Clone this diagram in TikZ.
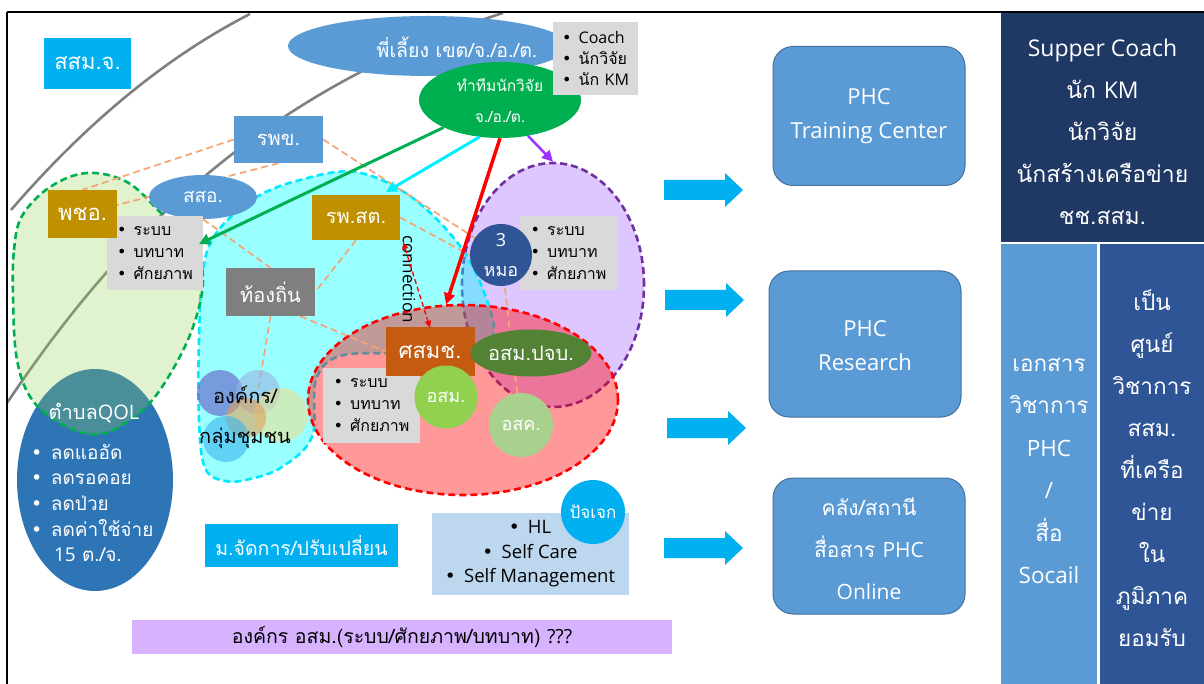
\documentclass[tikz,border=0pt]{standalone}
\usepackage{fontspec}
\setmainfont{Loma}[Script=Thai]
\newfontfamily\dejavu{DejaVu Sans}
\newfontfamily\latfont{Open Sans}
\newcommand{\la}[1]{{\latfont #1}}
\usetikzlibrary{shapes.geometric,arrows.meta}
\newcommand{\bl}{{\dejavu •}\hspace{0.45em}}
\definecolor{cyanbox}{RGB}{0,176,240}
\definecolor{medblue}{RGB}{91,155,213}
\definecolor{medblueline}{RGB}{65,113,156}
\definecolor{goldbox}{RGB}{191,144,0}
\definecolor{greenE}{RGB}{0,176,80}
\definecolor{graybox}{RGB}{217,217,217}
\definecolor{grayln}{RGB}{128,128,128}
\definecolor{gray7f}{RGB}{127,127,127}
\definecolor{orbox}{RGB}{197,90,17}
\definecolor{dkgreen}{RGB}{84,130,53}
\definecolor{lgreen}{RGB}{146,208,80}
\definecolor{lgreen2}{RGB}{169,209,142}
\definecolor{dkblue}{RGB}{47,85,151}
\definecolor{navy}{RGB}{32,56,100}
\definecolor{qolblue}{RGB}{46,117,182}
\definecolor{paleblue}{RGB}{189,215,238}
\definecolor{barpurple}{RGB}{214,178,255}
\definecolor{lavender}{RGB}{222,198,255}
\definecolor{orline}{RGB}{244,165,115}
\definecolor{violet}{RGB}{153,51,255}
\definecolor{dpurple}{RGB}{112,48,160}
\definecolor{cyanarr}{RGB}{0,240,255}
\definecolor{cyanln}{RGB}{0,232,255}
\definecolor{purecyan}{RGB}{0,255,255}
\definecolor{purered}{RGB}{255,0,0}
\pgfdeclarelayer{l0}\pgfdeclarelayer{l1}\pgfdeclarelayer{l2}\pgfdeclarelayer{l3}\pgfdeclarelayer{top}
\pgfsetlayers{l0,l1,l2,l3,main,top}
\tikzset{
  fs/.style={font=\fontsize{#1}{#1}\selectfont},
  boxw/.style={rectangle, inner sep=0pt, text=white, font=\fontsize{20}{26}\selectfont},
  blist/.style={rectangle, inner sep=0pt, fill=graybox, text=black, align=left, font=\fontsize{16}{22}\selectfont},
  ellw/.style={ellipse, inner sep=0pt, text=white},
  circw/.style={circle, inner sep=0pt, text=white},
  graycurve/.style={draw=grayln, line width=2.6pt},
  orl/.style={draw=orline, line width=1.7pt, dash pattern=on 7pt off 4pt},
  zonedash/.style={line width=2.6pt, dash pattern=on 7pt off 4pt},
  phc/.style={rectangle, rounded corners=20pt, fill=medblue, draw=medblueline, line width=1pt, text=white, align=center, minimum width=192, inner sep=0pt},
  panel/.style={rectangle, inner sep=0pt, text=white, align=center},
  bigarrow/.style={fill=cyanbox},
  link/.style={line width=3pt, -{Triangle[length=11pt,width=11pt]}},
  orgc/.style={circle, inner sep=0pt, fill opacity=0.6}
}
\begin{document}
\begin{tikzpicture}[x=1pt,y=-1pt]
\useasboundingbox (0,0) rectangle (1204,684);
% frame
\draw[line width=2pt] (7,12) -- (1204,12);
\draw[line width=2pt] (7,12) -- (7,684);

% ---------- layer 0 ----------
\begin{pgfonlayer}{l0}
\draw[graycurve] (11,210) .. controls (80,130) and (160,60) .. (250,14);
\draw[graycurve] (7,403) .. controls (90,280) and (230,100) .. (503,13);
\node[ellipse, fill=qolblue, minimum width=156, minimum height=222, inner sep=0pt] (qol) at (95,480) {};
\node[ellipse, fill=lavender, draw=dpurple, zonedash, minimum width=182, minimum height=244, inner sep=0pt] (mzone) at (553,285) {};
\end{pgfonlayer}

% ---------- layer 1 ----------
\begin{pgfonlayer}{l1}
\draw[cyanln, zonedash, fill=purecyan, fill opacity=0.4] plot[smooth cycle, tension=0.6] coordinates {(217,232) (255,198) (300,180) (355,172) (410,196) (460,246) (487,300) (492,338) (460,350) (400,353) (340,356) (316,380) (312,437) (282,467) (250,479) (225,481) (205,468) (199,420) (199,340) (203,270)};
\draw[greenE, zonedash, fill=lgreen, fill opacity=0.28] plot[smooth cycle, tension=0.6] coordinates {(13,297) (14,250) (22,216) (50,187) (87,173) (127,182) (160,212) (193,245) (203,282) (190,335) (160,390) (133,418) (100,434) (67,427) (33,401) (17,360)};
\end{pgfonlayer}

% ---------- layer 2 ----------
\begin{pgfonlayer}{l2}
\node[ellipse, draw=purered, zonedash, fill=purered, fill opacity=0.4, minimum width=310, minimum height=190, inner sep=0pt] (rzone) at (463,400) {};
\end{pgfonlayer}

% ---------- nodes ----------
\node[boxw, fill=cyanbox, minimum width=87, minimum height=51, fs=22] (ssmj) at (87.5,63.5) {สสม.จ.};
\node[ellw, fill=medblue, minimum width=280, minimum height=60] (pl) at (428,46) {};
\node[text=white, inner sep=0pt, fs=19.5] (plt) at (457,47) {พี่เลี้ยง เขต/จ./อ./ต.};
\node[ellw, fill=greenE, minimum width=162, minimum height=76, align=center, font=\fontsize{15.5}{31}\selectfont] (gteam) at (500,100) {ทำทีมนักวิจัย\\จ./อ./ต.};
\node[blist, minimum width=85, minimum height=73, font=\fontsize{16}{21}\selectfont] (coach) at (595.5,58.5) {\bl \la{Coach}\\\bl นักวิจัย\\\bl นัก \la{KM}};
\node[boxw, fill=medblue, minimum width=89, minimum height=47] (rpk) at (278.5,139.5) {รพข.};
\node[ellw, fill=medblue, minimum width=108, minimum height=44, fs=19] (sso) at (203,197) {สสอ.};
\node[blist, minimum width=96, minimum height=74] (b1) at (155,253) {\bl ระบบ\\\bl บทบาท\\\bl ศักยภาพ};
\node[boxw, fill=goldbox, minimum width=69, minimum height=48, fs=22] (pcho) at (82.5,214) {พชอ.};
\node[boxw, fill=goldbox, minimum width=88, minimum height=45] (rpst) at (356,217.5) {รพ.สต.};
\node[boxw, fill=gray7f, minimum width=89, minimum height=48] (tong) at (270.5,292) {ท้องถิ่น};
\node[blist, minimum width=97, minimum height=74] (b2) at (568.5,253) {\bl ระบบ\\\bl บทบาท\\\bl ศักยภาพ};
\node[circw, fill=dkblue, minimum size=62, align=center, font=\fontsize{18}{30}\selectfont] (mhor) at (501,255) {\la{3}\\หมอ};
\node[blist, minimum width=97, minimum height=75] (b3) at (371.5,405.5) {\bl ระบบ\\\bl บทบาท\\\bl ศักยภาพ};
\node[boxw, fill=orbox, minimum width=89, minimum height=49, fs=22] (ssmc) at (430,351.5) {ศสมช.};
\node[ellw, fill=dkgreen, minimum width=117, minimum height=47, fs=20] (pjb) at (531,353) {อสม.ปจบ.};
\node[circw, fill=lgreen, minimum size=63, fs=18] (osm) at (446,397) {อสม.};
\node[circw, fill=lgreen2, minimum size=64, fs=18] (osk) at (521,425) {อสค.};
\node[rotate=-90, inner sep=0pt, font=\latfont\fontsize{17}{17}\selectfont] (conn) at (409,279) {connection};

% organisation circles
\node[orgc, fill={rgb,255:red,100;green,90;blue,200}, minimum size=46] (oc1) at (220,393) {};
\node[orgc, fill={rgb,255:red,150;green,180;blue,225}, minimum size=44] (oc2) at (258,392) {};
\node[orgc, fill={rgb,255:red,235;green,225;blue,150}, minimum size=54] (oc4) at (281,415) {};
\node[orgc, fill={rgb,255:red,225;green,160;blue,90}, minimum size=40] (oc3) at (246,418) {};
\node[orgc, fill={rgb,255:red,60;green,180;blue,240}, minimum size=46] (oc5) at (226,439) {};
\node[align=center, font=\fontsize{20}{40}\selectfont, inner sep=0pt] (org) at (245,417) {องค์กร/\\กลุ่มชุมชน};

% QOL text
\node[text=white, fs=20, inner sep=0pt] (qolt) at (94,413) {ตำบล\la{QOL}};
\node[text=white, align=left, anchor=west, font=\fontsize{19}{25.6}\selectfont, inner sep=0pt] (qoll) at (31,503) {\bl ลดแออัด\\\bl ลดรอคอย\\\bl ลดป่วย\\\bl ลดค่าใช้จ่าย\\\hspace{1.2em}\la{15} ต./จ.};

% bottom boxes
\node[boxw, fill=cyanbox, minimum width=193, minimum height=43, fs=19.5] (mng) at (301.5,545.5) {ม.จัดการ/ปรับเปลี่ยน};
\node[rectangle, fill=paleblue, minimum width=197, minimum height=82, inner sep=0pt, align=center, font=\latfont\fontsize{18.5}{24.5}\selectfont] (hl) at (530,554) {\bl HL\\\bl Self Care\\\bl Self Management};
\node[circw, fill=cyanbox, minimum size=64, fs=17] (pj) at (593,512) {ปัจเจก};
\node[rectangle, fill=barpurple, minimum width=540, minimum height=34, inner sep=0pt, fs=19.5] (bar) at (402,637) {องค์กร อสม.(ระบบ/ศักยภาพ/บทบาท) \la{???}};

% block arrows
\foreach \yy/\xx in {190/664, 300/665, 428/667, 548/664}{
  \fill[bigarrow] (\xx,\yy-10) -- (\xx+61,\yy-10) -- (\xx+61,\yy-17) -- (\xx+79,\yy) -- (\xx+61,\yy+17) -- (\xx+61,\yy+10) -- (\xx,\yy+10) -- cycle;
}

% PHC boxes
\node[phc, minimum height=139, font=\latfont\fontsize{22}{34}\selectfont] (phc1) at (869,116) {PHC\\Training Center};
\node[phc, minimum height=146, font=\latfont\fontsize{22}{34}\selectfont] (phc2) at (865,344) {};
\node[text=white, align=center, inner sep=0pt, font=\latfont\fontsize{22}{34}\selectfont] (phc2t) at (865,346) {PHC\\Research};
\node[phc, minimum height=136] (phc3) at (869,546) {};
\node[text=white, align=center, inner sep=0pt, font=\fontsize{21}{42}\selectfont] (phc3t) at (869,549) {คลัง/สถานี\\สื่อสาร \la{PHC}\\\la{Online}};

% right panels
\node[panel, fill=navy, minimum width=203, minimum height=229] (rt) at (1102.5,127.5) {};
\node[panel, font=\fontsize{23}{42}\selectfont] (rtt) at (1102.5,132) {\la{Supper Coach}\\นัก \la{KM}\\นักวิจัย\\นักสร้างเครือข่าย\\ชช.สสม.};
\node[panel, fill=medblue, minimum width=96, minimum height=441] (rl) at (1049,464.5) {};
\node[panel, font=\fontsize{22.5}{42.4}\selectfont] (rlt) at (1049,471) {เอกสาร\\วิชาการ\\\la{PHC}\\\la{/}\\สื่อ\\\la{Socail}};
\node[panel, fill=dkblue, minimum width=104, minimum height=441] (rr) at (1152,464.5) {};
\node[panel, font=\fontsize{22.5}{42}\selectfont] (rrt) at (1152,468.5) {เป็น\\ศูนย์\\วิชาการ\\สสม.\\ที่เครือ\\ข่าย\\ใน\\ภูมิภาค\\ยอมรับ};

% ---------- orange dashed links (layer 3) ----------
\begin{pgfonlayer}{l3}
\draw[orl] (rpk.west) -- (pcho.north);
\draw[orl] (rpk.south) -- (pcho.center);
\draw[orl] (rpk.east) -- (mhor.center);
\draw[orl] (rpst.east) -- (mhor.west);
\draw[orl] (sso.south) -- (tong.north);
\draw[orl] (rpst.south) -- (tong.east);
\draw[orl] ([xshift=-15pt]tong.south east) -- (ssmc.west);
\draw[orl] (tong.south) -- (oc2.center);
\draw[orl] (mhor.center) -- (osk.center);
\draw[orl] (osm.center) -- (osk.center);
\end{pgfonlayer}

% ---------- arrows (top) ----------
\coordinate (gtip) at (199,244);
\coordinate (ctip) at (386,192);
\begin{pgfonlayer}{top}
\draw[link, greenE] (gteam.206) -- (gtip);
\draw[link, cyanarr] (gteam.241) -- (ctip);
\draw[link, purered, line width=3.5pt] (gteam.south) -- (rzone.100);
\draw[link, violet, line width=2.5pt] (gteam.308) -- (mzone.north);
\draw[purered, line width=1.3pt, dash pattern=on 5pt off 3pt, {Triangle[length=7pt,width=6pt]}-{Triangle[length=7pt,width=6pt]}] ([xshift=3pt,yshift=-2pt]rpst.south east) -- ([yshift=-1pt]ssmc.north);
\end{pgfonlayer}
\end{tikzpicture}
\end{document}
